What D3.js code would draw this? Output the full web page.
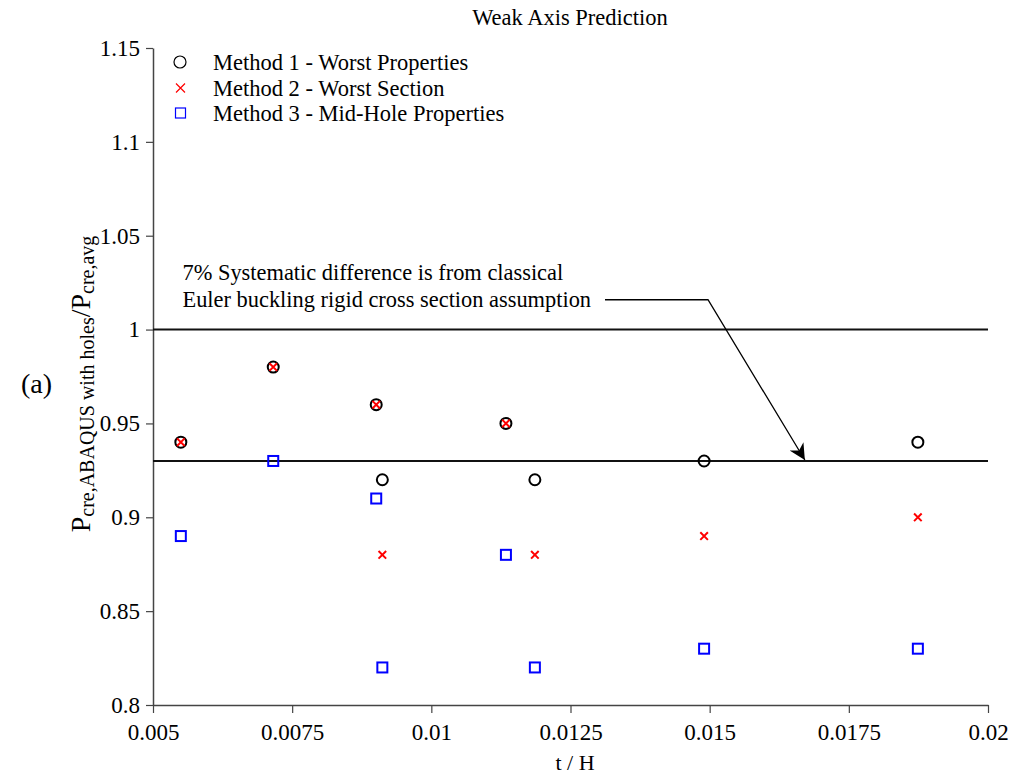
<!DOCTYPE html>
<html>
<head>
<meta charset="utf-8">
<script src="https://cdn.jsdelivr.net/npm/d3@7"></script>
<style>
  body { margin: 0; background: #fff; }
  svg text { font-family: "Liberation Serif", "Times New Roman", serif; fill: #000; }
</style>
</head>
<body>
<svg class="svg-main" width="1013" height="776"></svg>
<script>
// t/H values of the 8 specimens
const tH = [0.0055, 0.00716, 0.00901, 0.00912, 0.01134, 0.01186, 0.0149, 0.01874];
const method1 = [0.94, 0.98, 0.96, 0.92, 0.95, 0.92, 0.93, 0.94];
const method2 = [0.94, 0.98, 0.96, 0.88, 0.95, 0.88, 0.89, 0.90];
const method3 = [0.89, 0.93, 0.91, 0.82, 0.88, 0.82, 0.83, 0.83];
const refLines = [1.0, 0.93];
const xTicks = [0.005, 0.0075, 0.01, 0.0125, 0.015, 0.0175, 0.02];
const yTicks = [0.8, 0.85, 0.9, 0.95, 1, 1.05, 1.1, 1.15];
const legendLabels = ["Method 1 - Worst Properties", "Method 2 - Worst Section", "Method 3 - Mid-Hole Properties"];

const svg = d3.select('.svg-main');
const margin = {left: 153, right: 25, top: 48, bottom: 71};
const width = Number(svg.attr("width"));
const height = Number(svg.attr("height"));

const x = d3.scaleLinear().domain([0.005, 0.02]).range([margin.left, width - margin.right]);
const y = d3.scaleLinear().domain([0.8, 1.15]).range([height - margin.bottom, margin.top]);

const fmt = (d) => String(+d.toFixed(4));

// axes
const xAxis = svg.append("g")
  .attr("transform", `translate(0,${y(0.8)})`)
  .call(d3.axisBottom(x).tickValues(xTicks).tickFormat(fmt).tickSize(8).tickPadding(5).tickSizeOuter(0));
const yAxis = svg.append("g")
  .attr("transform", `translate(${x(0.005)},0)`)
  .call(d3.axisLeft(y).tickValues(yTicks).tickFormat(fmt).tickSize(7).tickPadding(6).tickSizeOuter(0));

[xAxis, yAxis].forEach((g) => {
  g.attr("font-family", null);
  g.select(".domain").attr("stroke", "#444").attr("stroke-width", 1.5);
  g.selectAll(".tick line").attr("stroke", "#444").attr("stroke-width", 1.2);
  g.selectAll(".tick text").style("font-size", "23px").attr("fill", "#000");
});
xAxis.selectAll(".tick text").attr("dy", "0.95em");

// reference lines
svg.append("g").selectAll("line")
  .data(refLines)
  .enter().append("line")
    .attr("x1", x(0.005)).attr("x2", x(0.02))
    .attr("y1", (d) => y(d)).attr("y2", (d) => y(d))
    .attr("stroke", "#111").attr("stroke-width", 2);

// points
const pts = (vals) => tH.map((t, i) => ({x: t, y: vals[i]}));

svg.append("g").selectAll("circle")
  .data(pts(method1))
  .enter().append("circle")
    .attr("cx", (d) => x(d.x)).attr("cy", (d) => y(d.y))
    .attr("r", 5.5)
    .attr("fill", "none").attr("stroke", "#000").attr("stroke-width", 2);

const cross = (g, cx, cy, s) => g.append("path")
  .attr("d", `M${cx - s},${cy - s}L${cx + s},${cy + s}M${cx - s},${cy + s}L${cx + s},${cy - s}`)
  .attr("stroke", "#ff0000").attr("stroke-width", 2).attr("fill", "none");

const crossG = svg.append("g");
pts(method2).forEach((d) => cross(crossG, x(d.x), y(d.y), 3.8));

svg.append("g").selectAll("rect")
  .data(pts(method3))
  .enter().append("rect")
    .attr("x", (d) => x(d.x) - 5).attr("y", (d) => y(d.y) - 5)
    .attr("width", 10).attr("height", 10)
    .attr("fill", "none").attr("stroke", "#0000ff").attr("stroke-width", 2);

// legend
const leg = svg.append("g");
const legY = [62, 88, 113];
leg.append("circle").attr("cx", 180).attr("cy", legY[0]).attr("r", 6)
  .attr("fill", "none").attr("stroke", "#000").attr("stroke-width", 1.2);
leg.append("path")
  .attr("d", `M176,${legY[1] - 4.5}L185,${legY[1] + 4.5}M176,${legY[1] + 4.5}L185,${legY[1] - 4.5}`)
  .attr("stroke", "#ff0000").attr("stroke-width", 1.2);
leg.append("rect").attr("x", 175.5).attr("y", legY[2] - 5).attr("width", 10).attr("height", 10)
  .attr("fill", "none").attr("stroke", "#0000ff").attr("stroke-width", 1.2);
leg.selectAll("text")
  .data(legendLabels)
  .enter().append("text")
    .attr("x", 213).attr("y", (d, i) => legY[i])
    .attr("dy", "0.35em")
    .style("font-size", "22.5px")
    .text((d) => d);

// title
svg.append("text")
  .attr("x", 570).attr("y", 25)
  .attr("text-anchor", "middle")
  .style("font-size", "22.5px")
  .text("Weak Axis Prediction");

// x label
svg.append("text")
  .attr("x", 575).attr("y", 770)
  .attr("text-anchor", "middle")
  .style("font-size", "22px")
  .text("t / H");

// y label with subscripts
const yl = svg.append("text")
  .attr("transform", `translate(90,384) rotate(-90)`)
  .attr("text-anchor", "middle")
  .style("font-size", "28px");
yl.append("tspan").text("P");
yl.append("tspan").attr("dy", 4).style("font-size", "20px").text("cre,ABAQUS with holes");
yl.append("tspan").attr("dy", -4).text("/P");
yl.append("tspan").attr("dy", 4).style("font-size", "20px").text("cre,avg");

// panel tag
svg.append("text")
  .attr("x", 21).attr("y", 393)
  .style("font-size", "28px")
  .text("(a)");

// annotation
svg.append("text")
  .attr("x", x(0.00553)).attr("y", y(1.0262))
  .style("font-size", "22.4px")
  .text("7% Systematic difference is from classical");
svg.append("text")
  .attr("x", x(0.00553)).attr("y", y(1.0118))
  .style("font-size", "22.4px")
  .text("Euler buckling rigid cross section assumption");

svg.append("defs").append("marker")
  .attr("id", "arrow")
  .attr("viewBox", "0 0 10 10")
  .attr("refX", 10).attr("refY", 5)
  .attr("markerWidth", 16).attr("markerHeight", 16)
  .attr("markerUnits", "userSpaceOnUse")
  .attr("orient", "auto")
  .append("path").attr("d", "M0,0L10,5L0,10L3,5Z").attr("fill", "#000");

const leader = [[0.01312, 1.0159], [0.01497, 1.0159], [0.01671, 0.9305]];
svg.append("path")
  .attr("d", d3.line().x((d) => x(d[0])).y((d) => y(d[1]))(leader))
  .attr("fill", "none").attr("stroke", "#000").attr("stroke-width", 1.3)
  .attr("marker-end", "url(#arrow)");
</script>
</body>
</html>
